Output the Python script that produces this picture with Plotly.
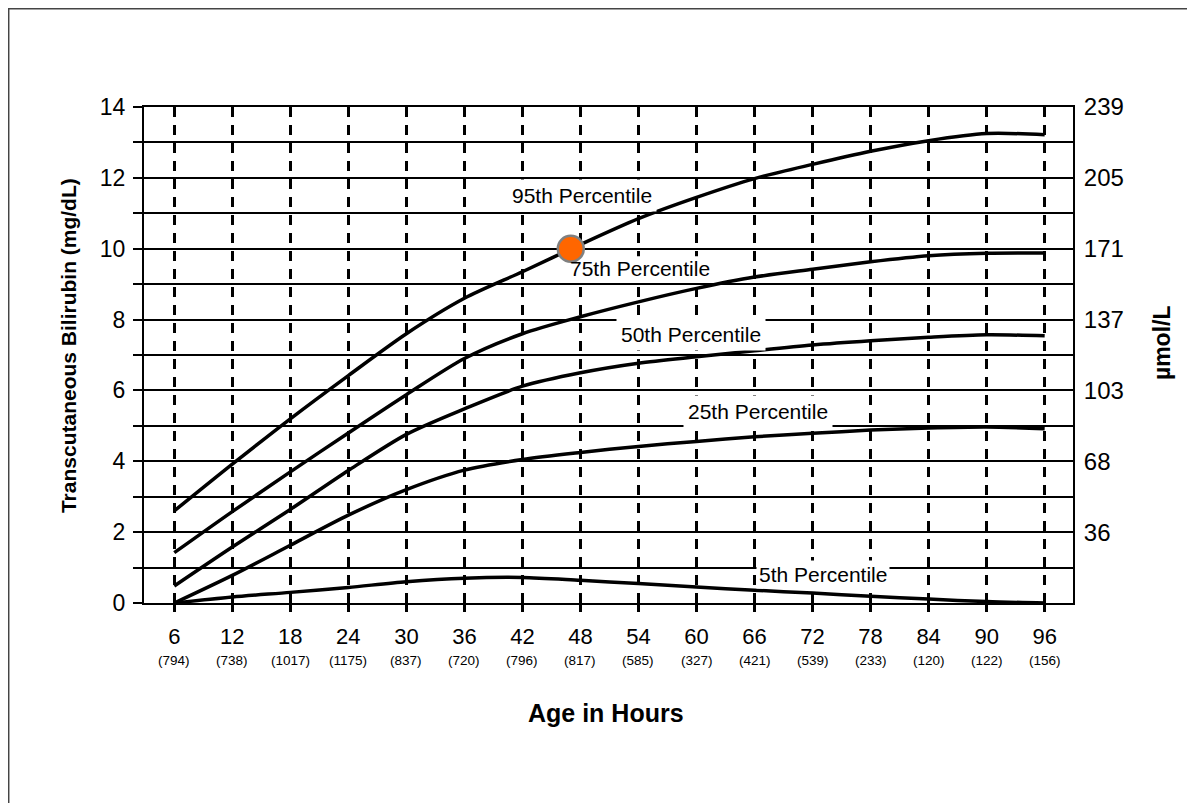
import plotly.graph_objects as go

# ---------------- data ----------------
hours = [6, 12, 18, 24, 30, 36, 42, 48, 54, 60, 66, 72, 78, 84, 90, 96]
counts = ["(794)", "(738)", "(1017)", "(1175)", "(837)", "(720)", "(796)", "(817)",
          "(585)", "(327)", "(421)", "(539)", "(233)", "(120)", "(122)", "(156)"]

p95 = [2.6, 3.92, 5.2, 6.42, 7.6, 8.6, 9.35, 10.12, 10.85, 11.45, 11.98, 12.38, 12.75, 13.05, 13.25, 13.22]
p75 = [1.42, 2.58, 3.7, 4.8, 5.88, 6.9, 7.6, 8.08, 8.5, 8.88, 9.2, 9.42, 9.63, 9.8, 9.87, 9.88]
p50 = [0.48, 1.58, 2.64, 3.74, 4.76, 5.48, 6.12, 6.5, 6.77, 6.95, 7.12, 7.28, 7.4, 7.5, 7.57, 7.54]
p25 = [0.0, 0.78, 1.63, 2.48, 3.2, 3.75, 4.05, 4.25, 4.42, 4.56, 4.69, 4.79, 4.88, 4.94, 4.97, 4.92]
p05 = [0.0, 0.17, 0.3, 0.44, 0.6, 0.7, 0.72, 0.64, 0.55, 0.45, 0.36, 0.28, 0.19, 0.11, 0.04, 0.0]

series = [p95, p75, p50, p25, p05]

label_text = ["95th Percentile", "75th Percentile", "50th Percentile", "25th Percentile", "5th Percentile"]
label_x = [48.2, 54.2, 59.4, 66.4, 73.1]
label_y = [11.5, 9.45, 7.58, 5.4, 0.8]
label_pad = [4, 4, 4, 4, 2]

left_tick_vals = list(range(0, 15))
left_tick_text = [str(v) if v % 2 == 0 else "" for v in left_tick_vals]
right_tick_vals = [2, 4, 6, 8, 10, 12, 14]
right_tick_text = ["36", "68", "103", "137", "171", "205", "239"]

patient_hour = [47.0]
patient_value = [10.0]

FONT = "Liberation Sans, Arial, Helvetica, sans-serif"
LABEL_SIZE = 21

# plot area geometry (pixels) used for converting label-box padding
PLOT_W, PLOT_H = 929, 496
X_RANGE = [2.87, 98.93]
Y_RANGE = [0, 14]
px_per_hour = PLOT_W / (X_RANGE[1] - X_RANGE[0])
px_per_unit = PLOT_H / (Y_RANGE[1] - Y_RANGE[0])

fig = go.Figure()

for s in series:
    fig.add_trace(go.Scatter(
        x=hours, y=s, mode="lines",
        line=dict(color="black", width=3.5, shape="spline", smoothing=0.8),
        showlegend=False, hoverinfo="skip",
    ))

fig.add_trace(go.Scatter(
    x=patient_hour, y=patient_value, mode="markers",
    marker=dict(size=26, color="#FF6600", line=dict(color="#808080", width=2.5)),
    showlegend=False,
))

# invisible trace for the right axis
fig.add_trace(go.Scatter(x=[hours[0]], y=[0], yaxis="y2", mode="markers",
                         marker=dict(opacity=0), showlegend=False, hoverinfo="skip"))

annotations = []
shapes = []
for t, x, y, pad in zip(label_text, label_x, label_y, label_pad):
    if t.startswith("75th"):
        # white box drawn beneath the traces so the patient marker stays on top
        half_w = (0.318 * LABEL_SIZE * len(t) + 4) / px_per_hour
        half_h = 12 / px_per_unit
        shapes.append(dict(type="rect", xref="x", yref="y",
                           x0=x - half_w, x1=x + half_w, y0=y - half_h, y1=y + half_h,
                           fillcolor="white", line=dict(width=0), layer="between"))
        bg = "rgba(0,0,0,0)"
    else:
        bg = "white"
    annotations.append(dict(
        x=x, y=y, xref="x", yref="y", text=t, showarrow=False,
        font=dict(family=FONT, size=LABEL_SIZE, color="black"),
        bgcolor=bg, borderpad=pad,
    ))

for h, c in zip(hours, counts):
    annotations.append(dict(
        x=h, y=-0.115, xref="x", yref="paper", text=c, showarrow=False,
        xanchor="center", yanchor="middle",
        font=dict(family=FONT, size=13.5, color="black"),
    ))

annotations.append(dict(
    x=0.497, y=-0.2218, xref="paper", yref="paper", text="<b>Age in Hours</b>",
    xanchor="center", yanchor="middle",
    showarrow=False, font=dict(family=FONT, size=25, color="black"),
))
annotations.append(dict(
    x=-0.0818, y=0.518, xref="paper", yref="paper",
    text="<b>Transcutaneous Bilirubin (mg/dL)</b>", textangle=-90,
    xanchor="center", yanchor="middle",
    showarrow=False, font=dict(family=FONT, size=21, color="black"),
))
annotations.append(dict(
    x=1.0958, y=0.526, xref="paper", yref="paper",
    text="<b>µmol/L</b>", textangle=-90,
    xanchor="center", yanchor="middle",
    showarrow=False, font=dict(family=FONT, size=23, color="black"),
))

shapes.append(dict(
    type="rect", xref="paper", yref="paper",
    x0=-0.1459, y0=-0.6, x1=1.25, y1=1.1986,
    line=dict(color="#444444", width=2), fillcolor="rgba(0,0,0,0)", layer="below",
))

fig.update_layout(
    width=1187, height=795,
    margin=dict(l=136, r=122, t=99, b=200),
    paper_bgcolor="white", plot_bgcolor="white",
    font=dict(family=FONT, color="black"),
    xaxis=dict(
        range=X_RANGE, tickvals=hours, ticktext=[str(h) for h in hours],
        tickfont=dict(size=22), ticks="outside", ticklen=7, tickwidth=2.5, tickcolor="black",
        ticklabelstandoff=6,
        showgrid=True, gridcolor="black", gridwidth=2.5, griddash="10px,8px",
        showline=True, mirror=True, linecolor="black", linewidth=2,
        zeroline=False, fixedrange=True,
    ),
    yaxis=dict(
        range=Y_RANGE, tickvals=left_tick_vals, ticktext=left_tick_text,
        tickfont=dict(size=23), ticks="outside", ticklen=9, tickwidth=2, tickcolor="black",
        ticklabelstandoff=3,
        showgrid=True, gridcolor="black", gridwidth=2,
        showline=True, mirror=True, linecolor="black", linewidth=2,
        zeroline=False, fixedrange=True,
    ),
    yaxis2=dict(
        range=Y_RANGE, overlaying="y", side="right",
        tickvals=right_tick_vals, ticktext=right_tick_text,
        tickfont=dict(size=24), ticks="outside", ticklen=5, tickcolor="rgba(0,0,0,0)",
        showgrid=False, zeroline=False, showline=False, fixedrange=True,
    ),
    annotations=annotations,
    shapes=shapes,
)

fig.write_html("out.html")
